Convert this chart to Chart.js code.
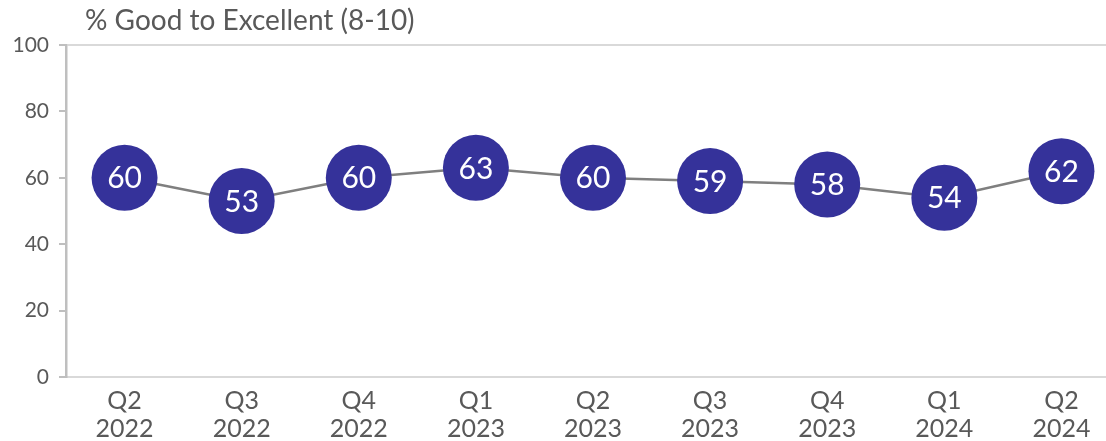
<!DOCTYPE html>
<html>
<head>
<meta charset="utf-8">
<script src="https://cdn.jsdelivr.net/npm/chart.js@4/dist/chart.umd.min.js"></script>
<style>
  html, body { margin: 0; padding: 0; background: #ffffff; overflow: hidden; }
  /* the plot runs slightly past the right edge of the visible frame */
  #wrap { width: 1106px; height: 441px; position: relative; overflow: hidden; }
</style>
</head>
<body>
<div id="wrap"><canvas id="c" width="1120" height="441"></canvas></div>
<script>
// Quarterly share of ratings 8-10
const quarters = [["Q2", "2022"], ["Q3", "2022"], ["Q4", "2022"], ["Q1", "2023"], ["Q2", "2023"],
                  ["Q3", "2023"], ["Q4", "2023"], ["Q1", "2024"], ["Q2", "2024"]];
const goodToExcellent = [60, 53, 60, 63, 60, 59, 58, 54, 62];
const yTicks = [0, 20, 40, 60, 80, 100];
const chartTitle = "% Good to Excellent (8-10)";

const FONT = "Lato, 'DejaVu Sans', sans-serif";
const TEXT = "#595959";
const MARKER = "#35329A";

// Writes each value in white at the centre of its marker
const valueLabels = {
  id: "valueLabels",
  afterDatasetsDraw(chart) {
    const ctx = chart.ctx;
    const meta = chart.getDatasetMeta(0);
    const data = chart.data.datasets[0].data;
    ctx.save();
    ctx.fillStyle = "#ffffff";
    ctx.font = "30px " + FONT;
    ctx.textAlign = "center";
    ctx.textBaseline = "middle";
    meta.data.forEach((pt, i) => {
      ctx.fillText(String(data[i]), pt.x, pt.y + 1);
    });
    ctx.restore();
  }
};

// Axis caption above the plot
const captionPlugin = {
  id: "caption",
  afterDraw(chart) {
    const ctx = chart.ctx;
    ctx.save();
    ctx.fillStyle = TEXT;
    ctx.font = "28px " + FONT;
    ctx.textAlign = "left";
    ctx.textBaseline = "alphabetic";
    ctx.fillText(chartTitle, chart.chartArea.left + 19, 30);
    ctx.restore();
  }
};

new Chart(document.getElementById("c"), {
  type: "line",
  data: {
    labels: quarters,
    datasets: [{
      data: goodToExcellent,
      borderColor: "#7f7f7f",
      borderWidth: 2.5,
      pointRadius: 33,
      pointHoverRadius: 33,
      pointBackgroundColor: MARKER,
      pointBorderColor: MARKER,
      pointBorderWidth: 0,
      tension: 0,
      clip: false
    }]
  },
  options: {
    responsive: false,
    animation: false,
    events: [],
    layout: { autoPadding: false, padding: { top: 45, right: 0, bottom: 0, left: 0 } },
    plugins: {
      legend: { display: false },
      tooltip: { enabled: false },
      title: { display: false }
    },
    scales: {
      x: {
        offset: true,
        afterFit(scale) {
          scale.height = 64;
          scale.paddingLeft = 0;
          scale.paddingRight = 0;
        },
        grid: { display: false, drawTicks: false },
        border: { display: true, color: "#d9d9d9", width: 2 },
        ticks: {
          color: TEXT,
          font: { family: FONT, size: 25, lineHeight: 1.12 },
          padding: 10,
          maxRotation: 0,
          autoSkip: false
        }
      },
      y: {
        min: 0,
        max: 100,
        afterFit(scale) { scale.width = 66; },
        afterBuildTicks(scale) { scale.ticks = yTicks.map(v => ({ value: v })); },
        grid: {
          color: ctx => (ctx.tick && ctx.tick.value === 100 ? "#d9d9d9" : "rgba(0,0,0,0)"),
          lineWidth: 2,
          drawTicks: true,
          tickLength: 7,
          tickColor: "#bfbfbf",
          tickWidth: 2
        },
        border: { display: true, color: "#bfbfbf", width: 2.5 },
        ticks: {
          color: TEXT,
          font: { family: FONT, size: 21 },
          padding: 10
        }
      }
    }
  },
  plugins: [valueLabels, captionPlugin]
});
</script>
</body>
</html>
